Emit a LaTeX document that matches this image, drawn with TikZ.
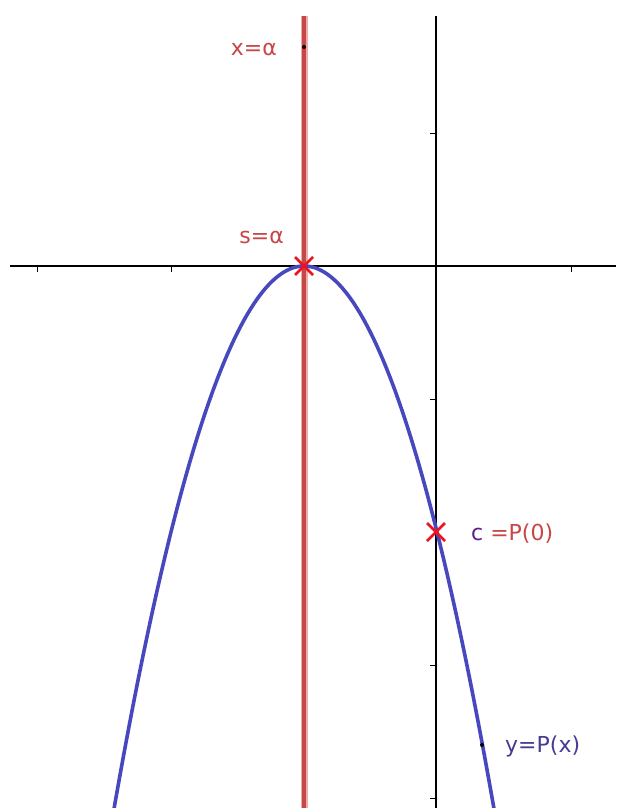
\documentclass[tikz,border=0pt]{standalone}
\usepackage{fontspec}
\setmainfont{DejaVu Sans}
\usetikzlibrary{calc}
\definecolor{curveblue}{RGB}{72,72,190}
\definecolor{linered}{RGB}{196,72,72}
\definecolor{halored}{RGB}{240,170,170}
\definecolor{markred}{RGB}{235,20,30}
\definecolor{labred}{RGB}{200,70,70}
\definecolor{labblue}{RGB}{70,60,150}
\definecolor{labpurple}{RGB}{90,30,140}
\begin{document}
\begin{tikzpicture}[x=1pt,y=-1pt,
  axis/.style={line width=1.2pt,black},
  tick/.style={line width=1pt,black},
  lab/.style={inner sep=0pt,font=\fontsize{22}{25}\selectfont},
  cross/.style={line width=2.6pt,markred},
  dotpt/.style={circle,fill=black,inner sep=0pt,minimum size=4pt}]
\useasboundingbox[fill=white] (0,0) rectangle (616,808);
% axes
\draw[axis] (10,266) -- (616,266);
\draw[axis] (436,16) -- (436,808);
% ticks on x axis
\foreach \x in {37,171,571} \draw[tick] (\x,266) -- (\x,272);
% ticks on y axis
\foreach \y in {133,399,665,798} \draw[tick] (436,\y) -- (430,\y);
% red vertical line x = alpha
\draw[halored,line width=7pt] (304,16) -- (304,808);
\draw[linered,line width=3.5pt] (304,16) -- (304,808);
% parabola
\begin{scope}
\clip (0,0) rectangle (616,808);
\draw[curveblue,line width=3.6pt,domain=112:496,samples=120,smooth]
  plot (\x,{266+2*((\x-304)/133)*(\x-304)});
\end{scope}
% points
\coordinate (S) at (304,266);
\coordinate (C) at (436,532);
\node[dotpt] (A) at (304,47) {};
\node[dotpt,minimum size=4pt] (Y) at (482,745) {};
\draw[cross] ($(S)+(-9,-9)$) -- ($(S)+(9,9)$) ($(S)+(-9,9)$) -- ($(S)+(9,-9)$);
\draw[cross] ($(C)+(-9,-9)$) -- ($(C)+(9,9)$) ($(C)+(-9,9)$) -- ($(C)+(9,-9)$);
% labels
\node[lab,text=labred,anchor=east] (la) at (277,49) {x=α};
\node[lab,text=labred,anchor=east] (ls) at (284,237) {s=α};
\node[lab,anchor=west] (lc) at (471,534) {\textcolor{labpurple}{c} \textcolor{labred}{=P(0)}};
\node[lab,text=labblue,anchor=west] (ly) at (505,746) {y=P(x)};
\end{tikzpicture}
\end{document}
